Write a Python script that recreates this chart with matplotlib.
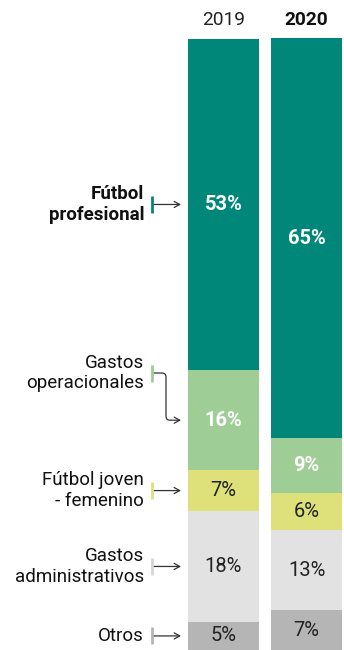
import matplotlib
matplotlib.use("Agg")
import matplotlib.pyplot as plt
import matplotlib.transforms as mtransforms
from matplotlib.patches import FancyArrowPatch
from matplotlib.path import Path

plt.rcParams['font.family'] = ['Roboto', 'DejaVu Sans']

years = ["2019", "2020"]
categories = ["Otros", "Gastos\nadministrativos", "Fútbol joven\n- femenino",
              "Gastos\noperacionales", "Fútbol\nprofesional"]
# segment heights (share of bar), bottom to top
values_2019 = [4.6, 18.1, 6.7, 16.3, 54.2]
values_2020 = [6.5, 13.1, 6.0, 9.0, 65.4]
labels_2019 = ["5%", "18%", "7%", "16%", "53%"]
labels_2020 = ["7%", "13%", "6%", "9%", "65%"]

colors = ["#B5B5B5", "#E2E2E2", "#DEE17A", "#9FCD96", "#00877A"]
tick_colors = ["#B5B5B5", "#D6D6D6", "#DEE17A", "#9FCD96", "#00877A"]
text_colors = ["#222222", "#222222", "#222222", "white", "white"]
text_weights = ["normal", "normal", "normal", "bold", "bold"]

W, H = 344, 650
fig = plt.figure(figsize=(W / 100, H / 100), dpi=100)
ax = fig.add_axes([188 / W, 0, 154 / W, 612 / H])
bar_w = 71 / 83
ax.set_xlim(-35.5 / 83, 1 + 35.5 / 83)
ax.set_ylim(0, 100)
ax.axis("off")

for i, (vals, labs) in enumerate([(values_2019, labels_2019), (values_2020, labels_2020)]):
    bottom = 0
    for j, v in enumerate(vals):
        ax.bar(i, v, bottom=bottom, width=bar_w, color=colors[j], linewidth=0)
        ax.text(i, bottom + v / 2, labs[j], ha="center", va="center",
                color=text_colors[j], fontweight=text_weights[j], fontsize=14.5)
        bottom += v

# year labels
tyear = mtransforms.blended_transform_factory(ax.transData, fig.transFigure)
ax.text(0, 1 - 20 / H, years[0], transform=tyear, ha="center", va="center",
        fontsize=13.8, color="#222222")
ax.text(1, 1 - 20 / H, years[1], transform=tyear, ha="center", va="center",
        fontsize=13.8, color="#111111", fontweight="bold")

# left labels with connectors
tl = mtransforms.blended_transform_factory(fig.transFigure, ax.transData)
centers = []
b = 0
for v in values_2019:
    centers.append(b + v / 2)
    b += v

def py(p):
    return (650 - p) / 612 * 100

label_y = list(centers)
label_y[3] = py(373)  # operacionales label sits higher
x_text = 144 / W
x_tick = 152 / W
x_arrow_end = 181 / W
for j, cat in enumerate(categories):
    y = label_y[j]
    ax.text(x_text, y, cat, transform=tl, ha="right", va="center",
            fontsize=13.5, color="#111111", linespacing=1.2,
            fontweight="bold" if j == 4 else "normal", clip_on=False)
    half = 8.5 / 612 * 100
    ax.plot([x_tick, x_tick], [y - half, y + half], transform=tl,
            color=tick_colors[j], lw=2, clip_on=False, solid_capstyle="butt")
    if j != 3:
        arr = FancyArrowPatch((x_tick + 1 / W, y), (x_arrow_end, y), transform=tl,
                              arrowstyle="->,head_length=4,head_width=2.2",
                              lw=0.9, color="#333333", shrinkA=0, shrinkB=0,
                              clip_on=False)
        ax.add_patch(arr)
    else:
        xc = 166 / W
        y2 = centers[3]
        rx = 4 / W
        ry = 4 / 612 * 100
        verts = [(x_tick + 1 / W, y), (xc - rx, y), (xc, y), (xc, y - ry),
                 (xc, y2 + ry), (xc, y2), (xc + rx, y2), (x_arrow_end, y2)]
        codes = [Path.MOVETO, Path.LINETO, Path.CURVE3, Path.CURVE3,
                 Path.LINETO, Path.CURVE3, Path.CURVE3, Path.LINETO]
        arr = FancyArrowPatch(path=Path(verts, codes), transform=tl,
                              arrowstyle="->,head_length=4,head_width=2.2",
                              lw=0.9, color="#333333", clip_on=False)
        ax.add_patch(arr)

fig.savefig("out.png", dpi=100)
